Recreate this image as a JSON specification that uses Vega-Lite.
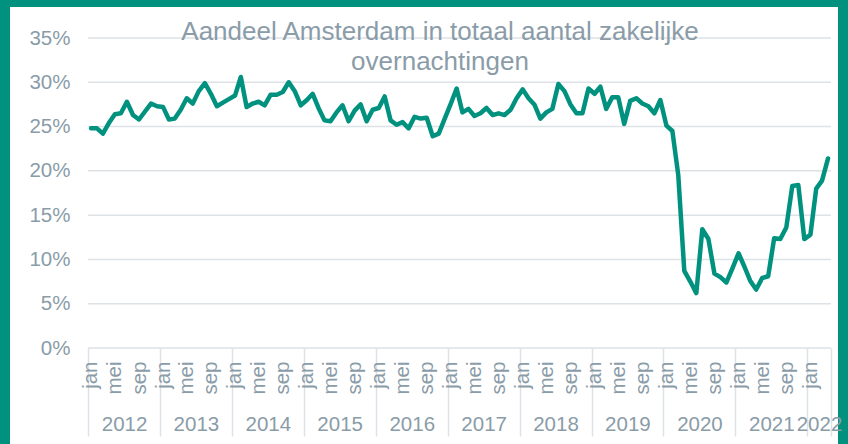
{
  "$schema": "https://vega.github.io/schema/vega-lite/v6.json",
  "width": 828,
  "height": 437,
  "autosize": "none",
  "padding": {"left": 10, "top": 7, "right": 10, "bottom": 0},
  "background": "#00927F",
  "title": {
    "text": ["Aandeel Amsterdam in totaal aantal zakelijke", "overnachtingen"],
    "fontSize": 26,
    "font": "Liberation Sans",
    "fontWeight": "normal",
    "color": "#8A9CA8",
    "anchor": "middle",
    "frame": "group",
    "baseline": "top",
    "lineHeight": 30,
    "offset": -68,
    "dx": 16
  },
  "datasets": {
    "grid": [{"pct": 0}, {"pct": 5}, {"pct": 10}, {"pct": 15}, {"pct": 20}, {"pct": 25}, {"pct": 30}, {"pct": 35}],
    "aandeel": [
      {"maand": "2012-01-01", "aandeel": 24.8}, {"maand": "2012-02-01", "aandeel": 24.8}, {"maand": "2012-03-01", "aandeel": 24.2}, {"maand": "2012-04-01", "aandeel": 25.4},
      {"maand": "2012-05-01", "aandeel": 26.4}, {"maand": "2012-06-01", "aandeel": 26.5}, {"maand": "2012-07-01", "aandeel": 27.8}, {"maand": "2012-08-01", "aandeel": 26.3},
      {"maand": "2012-09-01", "aandeel": 25.8}, {"maand": "2012-10-01", "aandeel": 26.7}, {"maand": "2012-11-01", "aandeel": 27.6}, {"maand": "2012-12-01", "aandeel": 27.3},
      {"maand": "2013-01-01", "aandeel": 27.2}, {"maand": "2013-02-01", "aandeel": 25.8}, {"maand": "2013-03-01", "aandeel": 25.9}, {"maand": "2013-04-01", "aandeel": 26.9},
      {"maand": "2013-05-01", "aandeel": 28.2}, {"maand": "2013-06-01", "aandeel": 27.6}, {"maand": "2013-07-01", "aandeel": 29.0}, {"maand": "2013-08-01", "aandeel": 29.9},
      {"maand": "2013-09-01", "aandeel": 28.7}, {"maand": "2013-10-01", "aandeel": 27.3}, {"maand": "2013-11-01", "aandeel": 27.7}, {"maand": "2013-12-01", "aandeel": 28.1},
      {"maand": "2014-01-01", "aandeel": 28.5}, {"maand": "2014-02-01", "aandeel": 30.6}, {"maand": "2014-03-01", "aandeel": 27.2}, {"maand": "2014-04-01", "aandeel": 27.6},
      {"maand": "2014-05-01", "aandeel": 27.8}, {"maand": "2014-06-01", "aandeel": 27.4}, {"maand": "2014-07-01", "aandeel": 28.6}, {"maand": "2014-08-01", "aandeel": 28.6},
      {"maand": "2014-09-01", "aandeel": 28.9}, {"maand": "2014-10-01", "aandeel": 30.0}, {"maand": "2014-11-01", "aandeel": 29.0}, {"maand": "2014-12-01", "aandeel": 27.4},
      {"maand": "2015-01-01", "aandeel": 28.0}, {"maand": "2015-02-01", "aandeel": 28.7}, {"maand": "2015-03-01", "aandeel": 27.1}, {"maand": "2015-04-01", "aandeel": 25.7},
      {"maand": "2015-05-01", "aandeel": 25.6}, {"maand": "2015-06-01", "aandeel": 26.6}, {"maand": "2015-07-01", "aandeel": 27.4}, {"maand": "2015-08-01", "aandeel": 25.6},
      {"maand": "2015-09-01", "aandeel": 26.8}, {"maand": "2015-10-01", "aandeel": 27.5}, {"maand": "2015-11-01", "aandeel": 25.6}, {"maand": "2015-12-01", "aandeel": 26.9},
      {"maand": "2016-01-01", "aandeel": 27.1}, {"maand": "2016-02-01", "aandeel": 28.4}, {"maand": "2016-03-01", "aandeel": 25.7}, {"maand": "2016-04-01", "aandeel": 25.2},
      {"maand": "2016-05-01", "aandeel": 25.5}, {"maand": "2016-06-01", "aandeel": 24.8}, {"maand": "2016-07-01", "aandeel": 26.1}, {"maand": "2016-08-01", "aandeel": 25.9},
      {"maand": "2016-09-01", "aandeel": 26.0}, {"maand": "2016-10-01", "aandeel": 23.9}, {"maand": "2016-11-01", "aandeel": 24.2}, {"maand": "2016-12-01", "aandeel": 25.9},
      {"maand": "2017-01-01", "aandeel": 27.6}, {"maand": "2017-02-01", "aandeel": 29.3}, {"maand": "2017-03-01", "aandeel": 26.6}, {"maand": "2017-04-01", "aandeel": 27.0},
      {"maand": "2017-05-01", "aandeel": 26.2}, {"maand": "2017-06-01", "aandeel": 26.5}, {"maand": "2017-07-01", "aandeel": 27.1}, {"maand": "2017-08-01", "aandeel": 26.3},
      {"maand": "2017-09-01", "aandeel": 26.5}, {"maand": "2017-10-01", "aandeel": 26.3}, {"maand": "2017-11-01", "aandeel": 26.9}, {"maand": "2017-12-01", "aandeel": 28.2},
      {"maand": "2018-01-01", "aandeel": 29.2}, {"maand": "2018-02-01", "aandeel": 28.2}, {"maand": "2018-03-01", "aandeel": 27.5}, {"maand": "2018-04-01", "aandeel": 25.9},
      {"maand": "2018-05-01", "aandeel": 26.6}, {"maand": "2018-06-01", "aandeel": 27.0}, {"maand": "2018-07-01", "aandeel": 29.8}, {"maand": "2018-08-01", "aandeel": 29.0},
      {"maand": "2018-09-01", "aandeel": 27.5}, {"maand": "2018-10-01", "aandeel": 26.5}, {"maand": "2018-11-01", "aandeel": 26.5}, {"maand": "2018-12-01", "aandeel": 29.3},
      {"maand": "2019-01-01", "aandeel": 28.7}, {"maand": "2019-02-01", "aandeel": 29.5}, {"maand": "2019-03-01", "aandeel": 27.0}, {"maand": "2019-04-01", "aandeel": 28.3},
      {"maand": "2019-05-01", "aandeel": 28.3}, {"maand": "2019-06-01", "aandeel": 25.3}, {"maand": "2019-07-01", "aandeel": 27.9}, {"maand": "2019-08-01", "aandeel": 28.2},
      {"maand": "2019-09-01", "aandeel": 27.6}, {"maand": "2019-10-01", "aandeel": 27.3}, {"maand": "2019-11-01", "aandeel": 26.5}, {"maand": "2019-12-01", "aandeel": 28.0},
      {"maand": "2020-01-01", "aandeel": 25.1}, {"maand": "2020-02-01", "aandeel": 24.5}, {"maand": "2020-03-01", "aandeel": 19.5}, {"maand": "2020-04-01", "aandeel": 8.7},
      {"maand": "2020-05-01", "aandeel": 7.5}, {"maand": "2020-06-01", "aandeel": 6.2}, {"maand": "2020-07-01", "aandeel": 13.4}, {"maand": "2020-08-01", "aandeel": 12.3},
      {"maand": "2020-09-01", "aandeel": 8.4}, {"maand": "2020-10-01", "aandeel": 8.0}, {"maand": "2020-11-01", "aandeel": 7.4}, {"maand": "2020-12-01", "aandeel": 9.0},
      {"maand": "2021-01-01", "aandeel": 10.7}, {"maand": "2021-02-01", "aandeel": 9.2}, {"maand": "2021-03-01", "aandeel": 7.6}, {"maand": "2021-04-01", "aandeel": 6.6},
      {"maand": "2021-05-01", "aandeel": 7.9}, {"maand": "2021-06-01", "aandeel": 8.1}, {"maand": "2021-07-01", "aandeel": 12.4}, {"maand": "2021-08-01", "aandeel": 12.3},
      {"maand": "2021-09-01", "aandeel": 13.6}, {"maand": "2021-10-01", "aandeel": 18.3}, {"maand": "2021-11-01", "aandeel": 18.4}, {"maand": "2021-12-01", "aandeel": 12.3},
      {"maand": "2022-01-01", "aandeel": 12.8}, {"maand": "2022-02-01", "aandeel": 18.0}, {"maand": "2022-03-01", "aandeel": 18.9}, {"maand": "2022-04-01", "aandeel": 21.4}
    ]
  },
  "layer": [
    {
      "data": {"name": "grid"},
      "mark": {"type": "rule", "color": "#DDE2E6", "strokeWidth": 1.5},
      "encoding": {
        "y": {
          "field": "pct", "type": "quantitative",
          "scale": {"domain": [0, 35], "range": [341, 31], "nice": false},
          "axis": {
            "orient": "left", "offset": -64, "values": [0, 5, 10, 15, 20, 25, 30, 35],
            "labelExpr": "datum.value + '%'", "labelPadding": 4,
            "domain": false, "ticks": false, "grid": false, "title": null
          }
        },
        "x": {
          "datum": {"year": 2012, "month": 1, "date": 1, "utc": true}, "type": "temporal",
          "scale": {"type": "utc", "domain": [{"year": 2012, "month": 1, "date": 1, "utc": true}, {"year": 2022, "month": 5, "date": 1, "utc": true}], "range": [78, 821], "nice": false},
          "axis": {
            "orient": "bottom", "offset": -96,
            "values": [
              {"year": 2012, "month": 1, "date": 1, "utc": true}, {"year": 2013, "month": 1, "date": 1, "utc": true},
              {"year": 2014, "month": 1, "date": 1, "utc": true}, {"year": 2015, "month": 1, "date": 1, "utc": true},
              {"year": 2016, "month": 1, "date": 1, "utc": true}, {"year": 2017, "month": 1, "date": 1, "utc": true},
              {"year": 2018, "month": 1, "date": 1, "utc": true}, {"year": 2019, "month": 1, "date": 1, "utc": true},
              {"year": 2020, "month": 1, "date": 1, "utc": true}, {"year": 2021, "month": 1, "date": 1, "utc": true},
              {"year": 2022, "month": 1, "date": 1, "utc": true}, {"year": 2022, "month": 5, "date": 1, "utc": true}
            ],
            "labels": false, "ticks": true, "tickSize": 88, "tickWidth": 1.5, "tickColor": "#DDE2E6",
            "domain": false, "grid": false, "title": null
          }
        },
        "x2": {"datum": {"year": 2022, "month": 5, "date": 1, "utc": true}}
      }
    },
    {
      "data": {"name": "aandeel"},
      "mark": {"type": "line", "color": "#00927F", "strokeWidth": 4.5, "strokeJoin": "round", "strokeCap": "round"},
      "encoding": {
        "x": {
          "field": "maand", "type": "temporal", "timeUnit": "utcyearmonth", "bandPosition": 0.5,
          "scale": {"type": "utc", "domain": [{"year": 2012, "month": 1, "date": 1, "utc": true}, {"year": 2022, "month": 5, "date": 1, "utc": true}], "range": [78, 821], "nice": false},
          "axis": {
            "orient": "bottom", "offset": -96,
            "values": [
              {"year": 2012, "month": 1, "date": 16, "utc": true}, {"year": 2012, "month": 5, "date": 16, "utc": true}, {"year": 2012, "month": 9, "date": 16, "utc": true},
              {"year": 2013, "month": 1, "date": 16, "utc": true}, {"year": 2013, "month": 5, "date": 16, "utc": true}, {"year": 2013, "month": 9, "date": 16, "utc": true},
              {"year": 2014, "month": 1, "date": 16, "utc": true}, {"year": 2014, "month": 5, "date": 16, "utc": true}, {"year": 2014, "month": 9, "date": 16, "utc": true},
              {"year": 2015, "month": 1, "date": 16, "utc": true}, {"year": 2015, "month": 5, "date": 16, "utc": true}, {"year": 2015, "month": 9, "date": 16, "utc": true},
              {"year": 2016, "month": 1, "date": 16, "utc": true}, {"year": 2016, "month": 5, "date": 16, "utc": true}, {"year": 2016, "month": 9, "date": 16, "utc": true},
              {"year": 2017, "month": 1, "date": 16, "utc": true}, {"year": 2017, "month": 5, "date": 16, "utc": true}, {"year": 2017, "month": 9, "date": 16, "utc": true},
              {"year": 2018, "month": 1, "date": 16, "utc": true}, {"year": 2018, "month": 5, "date": 16, "utc": true}, {"year": 2018, "month": 9, "date": 16, "utc": true},
              {"year": 2019, "month": 1, "date": 16, "utc": true}, {"year": 2019, "month": 5, "date": 16, "utc": true}, {"year": 2019, "month": 9, "date": 16, "utc": true},
              {"year": 2020, "month": 1, "date": 16, "utc": true}, {"year": 2020, "month": 5, "date": 16, "utc": true}, {"year": 2020, "month": 9, "date": 16, "utc": true},
              {"year": 2021, "month": 1, "date": 16, "utc": true}, {"year": 2021, "month": 5, "date": 16, "utc": true}, {"year": 2021, "month": 9, "date": 16, "utc": true},
              {"year": 2022, "month": 1, "date": 16, "utc": true}
            ],
            "labelExpr": "['jan','feb','mrt','apr','mei','jun','jul','aug','sep','okt','nov','dec'][utcmonth(datum.value)]",
            "labelAngle": -90, "labelAlign": "right", "labelBaseline": "middle", "labelPadding": 13,
            "labelOverlap": false, "labelFlush": false, "labelBound": false,
            "ticks": false, "domain": false, "grid": false, "title": null
          }
        },
        "y": {
          "field": "aandeel", "type": "quantitative",
          "scale": {"domain": [0, 35], "range": [341, 31], "nice": false},
          "axis": null
        }
      }
    },
    {
      "data": {"name": "grid"},
      "mark": {"type": "rule", "strokeOpacity": 0},
      "encoding": {
        "x": {
          "datum": {"year": 2012, "month": 1, "date": 1, "utc": true}, "type": "temporal",
          "scale": {"type": "utc", "domain": [{"year": 2012, "month": 1, "date": 1, "utc": true}, {"year": 2022, "month": 5, "date": 1, "utc": true}], "range": [78, 821], "nice": false},
          "axis": {
            "orient": "bottom", "offset": -96,
            "values": [
              {"year": 2012, "month": 7, "date": 2, "utc": true}, {"year": 2013, "month": 7, "date": 2, "utc": true},
              {"year": 2014, "month": 7, "date": 2, "utc": true}, {"year": 2015, "month": 7, "date": 2, "utc": true},
              {"year": 2016, "month": 7, "date": 2, "utc": true}, {"year": 2017, "month": 7, "date": 2, "utc": true},
              {"year": 2018, "month": 7, "date": 2, "utc": true}, {"year": 2019, "month": 7, "date": 2, "utc": true},
              {"year": 2020, "month": 7, "date": 2, "utc": true}, {"year": 2021, "month": 7, "date": 2, "utc": true},
              {"year": 2022, "month": 3, "date": 1, "utc": true}
            ],
            "labelExpr": "utcFormat(datum.value, '%Y')",
            "labelPadding": 66, "labelOverlap": false, "labelFlush": false, "labelBound": false,
            "ticks": false, "domain": false, "grid": false, "title": null
          }
        }
      }
    }
  ],
  "resolve": {"axis": {"x": "independent", "y": "independent"}},
  "config": {
    "view": {"fill": "white", "stroke": null},
    "font": "Liberation Sans",
    "axis": {"labelFont": "Liberation Sans", "labelFontSize": 20.5, "labelColor": "#8A9CA8"}
  }
}
